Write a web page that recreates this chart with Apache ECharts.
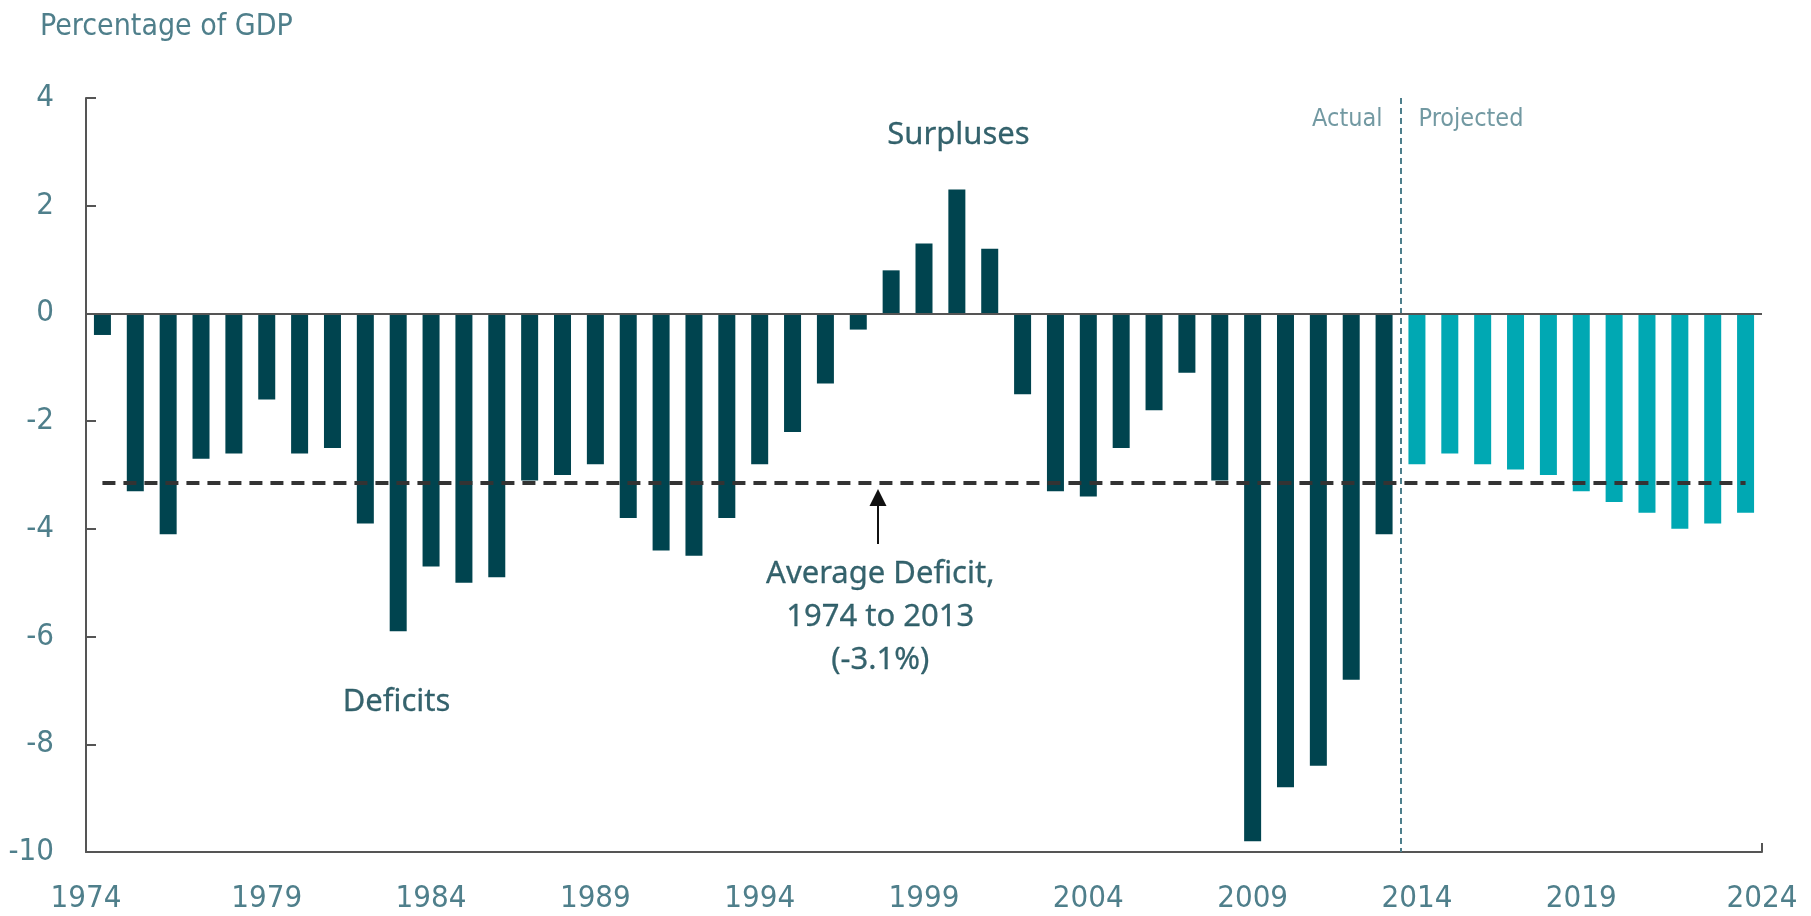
<!DOCTYPE html>
<html lang="en">
<head>
    <meta charset="UTF-8">
    <title>Deficits and surpluses, 1974 to 2024</title>
    <script src="https://cdn.jsdelivr.net/npm/echarts@6/dist/echarts.min.js"></script>
    <style>
        html, body { margin: 0; padding: 0; background: #fff; }
        #chart { width: 1811px; height: 916px; }
    </style>
</head>
<body>
<div id="chart"></div>
<script>
    'use strict';
    // categories (fiscal years)
    const years = ['1974', '1975', '1976', '1977', '1978', '1979', '1980', '1981', '1982', '1983',
        '1984', '1985', '1986', '1987', '1988', '1989', '1990', '1991', '1992', '1993',
        '1994', '1995', '1996', '1997', '1998', '1999', '2000', '2001', '2002', '2003',
        '2004', '2005', '2006', '2007', '2008', '2009', '2010', '2011', '2012', '2013',
        '2014', '2015', '2016', '2017', '2018', '2019', '2020', '2021', '2022', '2023', '2024'];
    // actual, 1974-2013 (% of GDP)
    const actualVals = [-0.4, -3.3, -4.1, -2.7, -2.6, -1.6, -2.6, -2.5, -3.9, -5.9,
        -4.7, -5.0, -4.9, -3.1, -3.0, -2.8, -3.8, -4.4, -4.5, -3.8,
        -2.8, -2.2, -1.3, -0.3, 0.8, 1.3, 2.3, 1.2, -1.5, -3.3,
        -3.4, -2.5, -1.8, -1.1, -3.1, -9.8, -8.8, -8.4, -6.8, -4.1];
    // projected, 2014-2024
    const projectedVals = [-2.8, -2.6, -2.8, -2.9, -3.0, -3.3, -3.5, -3.7, -4.0, -3.9, -3.7];
    const endLabels = ['1974', '2024'];
    const avgDeficit = -3.14;

    const DARK = '#00444f';
    const LIGHT = '#00a8b3';
    const LABEL = '#4f7f8b';
    const NOTE = '#033c48';
    const AXIS = '#555555';
    const NARROW = '"Liberation Sans Narrow", "DejaVu Sans Condensed", sans-serif';
    const NOTEFONT = '"Noto Sans", sans-serif';

    const actualData = years.map((y, i) => i < actualVals.length ? actualVals[i] : '-');
    const projectedData = years.map((y, i) => i >= actualVals.length ? projectedVals[i - actualVals.length] : '-');

    const xMin = 1973.5, xMax = 2024.5;
    const split = 2013.5;
    const showYear = (i) => i % 5 === 0 && i > 0 && i < years.length - 1;

    let chart = echarts.init(document.getElementById('chart'));
    let option = {
        animation: false,
        title: {
            text: 'Percentage of GDP',
            left: 35,
            top: 7,
            textStyle: {fontFamily: NARROW, fontSize: 30, fontWeight: 'normal', color: LABEL}
        },
        grid: {left: 86, right: 49, top: 98, bottom: 64, containLabel: false},
        xAxis: [{
            type: 'category',
            data: years,
            boundaryGap: true,
            axisLine: {onZero: false, lineStyle: {color: AXIS, width: 2}},
            axisTick: {
                inside: true, length: 9, alignWithLabel: true,
                interval: showYear,
                lineStyle: {color: AXIS, width: 2}
            },
            axisLabel: {
                interval: showYear,
                margin: 31,
                fontFamily: NARROW, fontSize: 31, color: LABEL
            },
            splitLine: {show: false}
        }, {
            // helper axis: continuous years, for the end labels and annotations
            type: 'value',
            position: 'bottom',
            min: xMin,
            max: xMax,
            interval: xMax - xMin,
            axisLine: {show: false, onZero: false},
            axisTick: {show: true, inside: true, length: 9, lineStyle: {color: AXIS, width: 2}},
            axisLabel: {
                showMinLabel: true, showMaxLabel: true,
                margin: 31,
                formatter: (v) => v <= xMin ? endLabels[0] : endLabels[1],
                fontFamily: NARROW, fontSize: 31, color: LABEL
            },
            splitLine: {show: false}
        }],
        yAxis: {
            type: 'value',
            min: -10,
            max: 4,
            interval: 2,
            axisLine: {show: true, lineStyle: {color: AXIS, width: 2}},
            axisTick: {show: true, inside: true, length: 10, lineStyle: {color: AXIS, width: 2}},
            axisLabel: {margin: 32, fontFamily: NARROW, fontSize: 31, color: LABEL},
            splitLine: {show: false}
        },
        series: [{
            name: 'Actual',
            type: 'bar',
            data: actualData,
            barWidth: 17,
            barGap: '-100%',
            itemStyle: {color: DARK},
            markLine: {
                silent: true,
                symbol: 'none',
                label: {show: false},
                lineStyle: {color: AXIS, width: 2, type: 'solid'},
                data: [{yAxis: 0}]
            }
        }, {
            name: 'Projected',
            type: 'bar',
            data: projectedData,
            barWidth: 17,
            barGap: '-100%',
            itemStyle: {color: LIGHT}
        }, {
            name: 'Average',
            type: 'lines',
            coordinateSystem: 'cartesian2d',
            xAxisIndex: 1,
            silent: true,
            z: 5,
            lineStyle: {color: '#333333', width: 4, type: [13, 8], opacity: 1},
            data: [{coords: [[1974, avgDeficit], [2024, avgDeficit]]}]
        }, {
            name: 'Divider',
            type: 'lines',
            coordinateSystem: 'cartesian2d',
            xAxisIndex: 1,
            silent: true,
            z: 4,
            lineStyle: {color: '#4d7f8c', width: 2, type: [6, 4], opacity: 1},
            data: [{coords: [[split, 4], [split, -10]]}]
        }, {
            name: 'Arrow',
            type: 'lines',
            coordinateSystem: 'cartesian2d',
            xAxisIndex: 1,
            silent: true,
            z: 6,
            symbol: ['none', 'triangle'],
            symbolSize: 17,
            lineStyle: {color: '#111111', width: 2, type: 'solid', opacity: 1},
            data: [{coords: [[1997.6, -4.28], [1997.6, -3.42]]}]
        }, {
            name: 'Notes',
            type: 'scatter',
            xAxisIndex: 1,
            symbolSize: 0,
            silent: true,
            z: 7,
            label: {
                show: true,
                position: 'inside',
                formatter: (p) => p.value[2],
                fontFamily: NOTEFONT,
                fontSize: 31,
                color: NOTE,
                textBorderColor: NOTE,
                textBorderWidth: 0.3,
                lineHeight: 43,
                align: 'center',
                verticalAlign: 'middle'
            },
            data: [
                [2000.05, 3.31, 'Surpluses'],
                [1982.95, -7.22, 'Deficits'],
                [1997.67, -5.64, 'Average Deficit,\n1974 to 2013\n(-3.1%)']
            ]
        }, {
            name: 'Periods',
            type: 'scatter',
            xAxisIndex: 1,
            symbolSize: 0,
            silent: true,
            label: {
                show: true,
                position: 'inside',
                formatter: (p) => p.value[2],
                fontFamily: NARROW,
                fontSize: 25,
                color: LABEL,
                verticalAlign: 'middle'
            },
            data: [
                {value: [split, 3.6, 'Actual'], label: {align: 'right', offset: [-18, 0]}},
                {value: [split, 3.6, 'Projected'], label: {align: 'left', offset: [18, 0]}}
            ]
        }]
    };
    chart.setOption(option);
</script>
</body>
</html>
